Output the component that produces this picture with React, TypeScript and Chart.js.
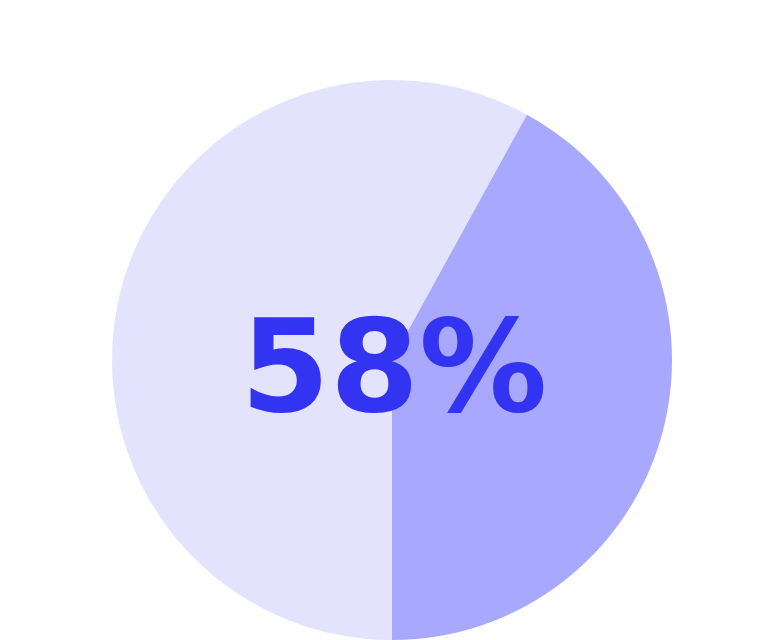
import { useEffect, useRef } from 'react'
import Chart from 'chart.js/auto'

const labels = ['Share', 'Rest']
const values = [58, 42]
const colors = ['#e3e3fe', '#a8a8fe']
const centerLabel = '58%'

const centerText = {
  id: 'centerText',
  afterDraw(chart: any) {
    const { ctx, chartArea } = chart
    const x = (chartArea.left + chartArea.right) / 2
    const y = (chartArea.top + chartArea.bottom) / 2
    ctx.save()
    ctx.font = 'bold 128px "DejaVu Sans"'
    ctx.fillStyle = '#3333f2'
    ctx.textAlign = 'center'
    ctx.textBaseline = 'alphabetic'
    ctx.fillText(centerLabel, x + 2, y + 51)
    ctx.restore()
  }
}

export default function App() {
  const chartRef = useRef<HTMLCanvasElement>(null)

  useEffect(() => {
    document.body.style.margin = '0'
    if (!chartRef.current) return
    const chart = new Chart(chartRef.current, {
      type: 'pie',
      data: {
        labels,
        datasets: [{
          data: values,
          backgroundColor: colors,
          borderWidth: 0
        }]
      },
      options: {
        animation: false,
        responsive: false,
        rotation: 180,
        layout: { padding: { top: 80, bottom: 0 } },
        plugins: {
          legend: { display: false },
          tooltip: { enabled: false }
        }
      },
      plugins: [centerText]
    })
    return () => chart.destroy()
  }, [])

  return (
    <div style={{ width: 784, height: 640, background: '#fff' }}>
      <canvas ref={chartRef} width={784} height={640} />
    </div>
  )
}
